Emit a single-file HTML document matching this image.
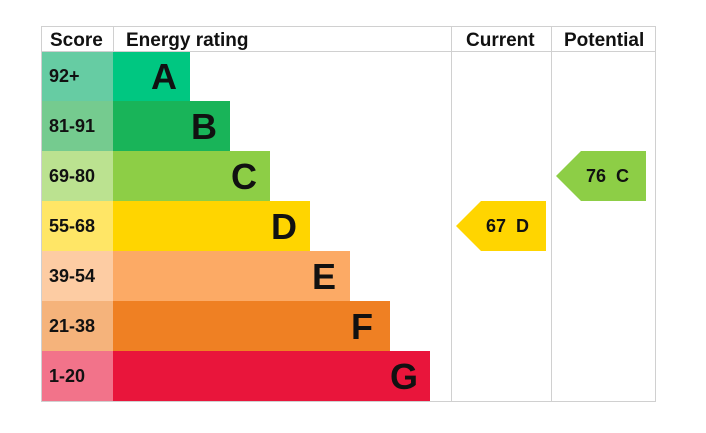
<!DOCTYPE html><html><head><style>body{margin:0;background:#fff}svg{display:block}text{font-family:"Liberation Sans",Arial,sans-serif;font-weight:bold;fill:#111}</style></head><body>
<svg width="706" height="433" viewBox="0 0 706 433">
<g>
<rect x="41" y="51" width="72" height="50" fill="#66cca3"/><rect x="113" y="51" width="77" height="50" fill="#00c781"/>
<rect x="41" y="101" width="72" height="50" fill="#75cb8f"/><rect x="113" y="101" width="117" height="50" fill="#19b459"/>
<rect x="41" y="151" width="72" height="50" fill="#bbe290"/><rect x="113" y="151" width="157" height="50" fill="#8dce46"/>
<rect x="41" y="201" width="72" height="50" fill="#ffe666"/><rect x="113" y="201" width="197" height="50" fill="#ffd500"/>
<rect x="41" y="251" width="72" height="50" fill="#fdcca3"/><rect x="113" y="251" width="237" height="50" fill="#fcaa65"/>
<rect x="41" y="301" width="72" height="50" fill="#f5b37b"/><rect x="113" y="301" width="277" height="50" fill="#ef8023"/>
<rect x="41" y="351" width="72" height="50" fill="#f2738a"/><rect x="113" y="351" width="317" height="50" fill="#e9153b"/>
</g>
<g stroke="#d0d0d0" stroke-width="1" fill="none">
<rect x="41.5" y="26.5" width="614" height="375"/>
<line x1="41" y1="51.5" x2="656" y2="51.5"/>
<line x1="113.5" y1="26" x2="113.5" y2="51"/>
<line x1="451.5" y1="26" x2="451.5" y2="401"/>
<line x1="551.5" y1="26" x2="551.5" y2="401"/>
</g>
<g font-size="19"><text x="50" y="46">Score</text><text x="126" y="46">Energy rating</text><text x="466" y="46">Current</text><text x="564" y="46">Potential</text></g>
<g font-size="18"><text x="49" y="82">92+</text><text x="49" y="132">81-91</text><text x="49" y="182">69-80</text><text x="49" y="232">55-68</text><text x="49" y="282">39-54</text><text x="49" y="332">21-38</text><text x="49" y="382">1-20</text></g>
<g font-size="36" text-anchor="end"><text x="177" y="89">A</text><text x="217" y="139">B</text><text x="257" y="189">C</text><text x="297" y="239">D</text><text x="336" y="289">E</text><text x="373" y="339">F</text><text x="418" y="389">G</text></g>
<polygon points="456,226 481,201 546,201 546,251 481,251" fill="#ffd500"/>
<polygon points="556,176 581,151 646,151 646,201 581,201" fill="#8dce46"/>
<g font-size="18" word-spacing="5"><text x="486" y="232">67 D</text><text x="586" y="182">76 C</text></g>
</svg></body></html>
